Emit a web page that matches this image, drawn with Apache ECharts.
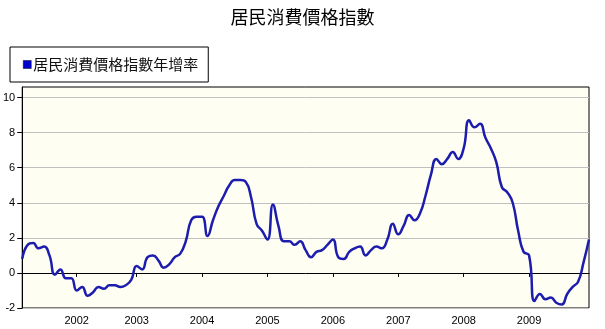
<!DOCTYPE html>
<html>
<head>
<meta charset="utf-8">
<script src="https://cdn.jsdelivr.net/npm/echarts@6/dist/echarts.min.js"></script>
<style>
  html, body { margin: 0; padding: 0; background: #ffffff; }
  #chart { width: 605px; height: 329px; }
</style>
</head>
<body>
<div id="chart"></div>
<script>
// Monthly year-on-year CPI change (%), Mar 2001 – Dec 2009 (Feb 2002 not published)
const months2001 = ['03','04','05','06','07','08','09','10','11','12'];
const months2002 = ['01','03','04','05','06','07','08','09','10','11','12'];
const monthsFull = ['01','02','03','04','05','06','07','08','09','10','11','12'];

const v2001 = [0.8, 1.6, 1.7, 1.4, 1.5, 1.0, -0.1, 0.2, -0.3, -0.3];
const v2002 = [-1.0, -0.8, -1.3, -1.1, -0.8, -0.9, -0.7, -0.7, -0.8, -0.7, -0.4];
const v2003 = [0.4, 0.2, 0.9, 1.0, 0.7, 0.3, 0.5, 0.9, 1.1, 1.8, 3.0, 3.2];
const v2004 = [3.2, 2.1, 3.0, 3.8, 4.4, 5.0, 5.3, 5.3, 5.2, 4.3, 2.8, 2.4];
const v2005 = [1.9, 3.9, 2.7, 1.8, 1.8, 1.6, 1.8, 1.3, 0.9, 1.2, 1.3, 1.6];
const v2006 = [1.9, 0.9, 0.8, 1.2, 1.4, 1.5, 1.0, 1.3, 1.5, 1.4, 1.9, 2.8];
const v2007 = [2.2, 2.7, 3.3, 3.0, 3.4, 4.4, 5.6, 6.5, 6.2, 6.5, 6.9, 6.5];
const v2008 = [7.1, 8.7, 8.3, 8.5, 7.7, 7.1, 6.3, 4.9, 4.6, 4.0, 2.4, 1.2];
const v2009 = [1.0, -1.6, -1.2, -1.5, -1.4, -1.7, -1.8, -1.2, -0.8, -0.5, 0.6, 1.9];

const yearTicks = ['2002','2003','2004','2005','2006','2007','2008','2009'];
const yTicks = [-2, 0, 2, 4, 6, 8, 10];

const titleText = '居民消費價格指數';
const seriesName = '居民消費價格指數年增率';

// Build the category list and the value list year by year
const yearBlocks = [
  ['2001', months2001, v2001],
  ['2002', months2002, v2002],
  ['2003', monthsFull, v2003],
  ['2004', monthsFull, v2004],
  ['2005', monthsFull, v2005],
  ['2006', monthsFull, v2006],
  ['2007', monthsFull, v2007],
  ['2008', monthsFull, v2008],
  ['2009', monthsFull, v2009]
];
const categories = [];
const values = [];
yearBlocks.forEach(([y, ms, vs]) => {
  ms.forEach((m, i) => { categories.push(y + '-' + m); values.push(vs[i]); });
});

// Year ticks sit on the first month of each labelled year
const isYearStart = (idx) => {
  const c = categories[idx];
  return c.endsWith('-01') && yearTicks.includes(c.slice(0, 4));
};

const chart = echarts.init(document.getElementById('chart'), null, { renderer: 'canvas' });
chart.setOption({
  animation: false,
  backgroundColor: '#ffffff',
  title: {
    text: titleText,
    left: 'center',
    top: 8,
    padding: 0,
    textStyle: {
      fontFamily: 'Noto Sans CJK TC',
      fontSize: 18,
      fontWeight: 'normal',
      color: '#000000'
    }
  },
  legend: {
    left: 10,
    top: 47,
    padding: [10, 10, 10, 13],
    borderColor: '#000000',
    borderWidth: 1,
    backgroundColor: '#ffffff',
    itemWidth: 8,
    itemHeight: 8,
    icon: 'rect',
    data: [{ name: seriesName, itemStyle: { color: '#0000cc', borderColor: '#000033', borderWidth: 0.5 } }],
    textStyle: {
      fontFamily: 'Noto Sans CJK TC',
      fontSize: 15,
      color: '#111111',
      padding: [0, 0, 0, -3]
    }
  },
  grid: {
    left: 22,
    right: 16,
    top: 87,
    bottom: 21,
    show: true,
    backgroundColor: '#fffef2',
    borderColor: '#000000',
    borderWidth: 1,
    containLabel: false
  },
  xAxis: {
    type: 'category',
    data: categories,
    boundaryGap: false,
    axisLine: { lineStyle: { color: '#000000', width: 1 } },
    axisTick: {
      show: true,
      length: 4,
      interval: (idx) => isYearStart(idx),
      lineStyle: { color: '#000000' }
    },
    axisLabel: {
      interval: (idx) => isYearStart(idx),
      formatter: (v) => v.slice(0, 4),
      margin: 7,
      fontFamily: 'Liberation Sans',
      fontSize: 11,
      color: '#000000'
    },
    splitLine: { show: false }
  },
  yAxis: {
    type: 'value',
    min: -2,
    max: 10.6,
    interval: 2,
    axisLine: { show: true, lineStyle: { color: '#000000', width: 1 } },
    axisTick: {
      show: true,
      length: 5,
      customValues: yTicks,
      lineStyle: { color: '#000000' }
    },
    axisLabel: {
      customValues: yTicks,
      margin: 7,
      fontFamily: 'Liberation Sans',
      fontSize: 11,
      color: '#000000'
    },
    splitLine: { show: true, lineStyle: { color: '#c0c0c0', width: 1 } }
  },
  series: [{
    name: seriesName,
    type: 'line',
    data: values,
    smooth: 0.5,
    showSymbol: false,
    symbol: 'none',
    lineStyle: { color: '#1c1cae', width: 2.5 },
    itemStyle: { color: '#0000cc' }
  }]
});
</script>
</body>
</html>
